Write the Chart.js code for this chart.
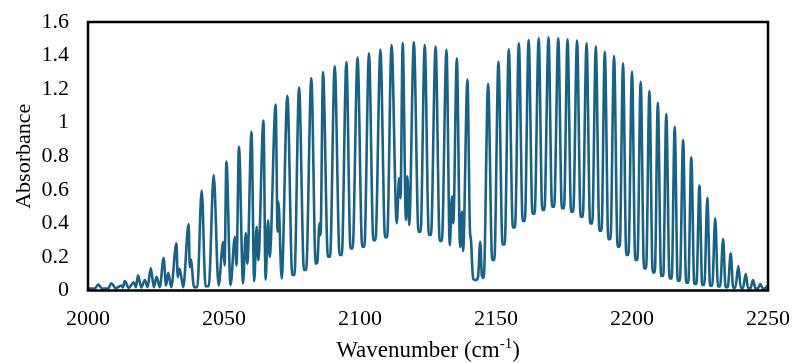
<!DOCTYPE html>
<html>
<head>
<meta charset="utf-8">
<script src="https://cdn.jsdelivr.net/npm/chart.js@4/dist/chart.umd.min.js"></script>
<style>
  html, body { margin: 0; padding: 0; background: #fff; }
  #wrap { width: 795px; height: 363px; }
</style>
</head>
<body>
<div id="wrap"><canvas id="c" width="795" height="363"></canvas></div>
<script>
// Values: wavenumber (cm-1) and absorbance of peaks, valleys, shoulders
// Low-wavenumber end of the P branch
const pLowWn = [2000.0, 2002.5, 2003.7, 2005.2, 2007.5, 2008.6, 2010.2, 2012.2, 2012.8, 2013.5,
  2015.0, 2016.8, 2017.6, 2018.4, 2019.6, 2020.9, 2021.9, 2023.1, 2024.2, 2025.2,
  2026.4, 2027.8, 2028.7, 2029.5, 2030.6, 2032.5, 2033.0, 2033.7, 2035.0, 2037.0,
  2037.4, 2037.8, 2039.0, 2040.2, 2041.8, 2043.2, 2044.4, 2046.2, 2048.0, 2049.7,
  2050.2, 2050.9, 2052.4, 2054.0, 2054.6, 2055.5, 2057.0, 2058.0, 2058.6, 2060.1,
  2061.1, 2062.0, 2062.6, 2064.5, 2065.3, 2066.2, 2066.8];
const pLowAbs = [0.012, 0.012, 0.035, 0.012, 0.013, 0.043, 0.013, 0.030, 0.018, 0.057,
  0.015, 0.049, 0.020, 0.090, 0.018, 0.063, 0.020, 0.134, 0.020, 0.082,
  0.020, 0.194, 0.030, 0.106, 0.020, 0.281, 0.080, 0.130, 0.020, 0.396,
  0.140, 0.185, 0.020, 0.020, 0.595, 0.025, 0.025, 0.688, 0.030, 0.288,
  0.150, 0.768, 0.033, 0.319, 0.150, 0.857, 0.043, 0.341, 0.160, 0.945,
  0.055, 0.380, 0.180, 1.012, 0.065, 0.418, 0.200];
// Upper P branch
const pHighWn = [2069.0, 2069.7, 2070.0, 2071.2, 2073.3, 2075.1, 2075.9, 2077.6, 2079.4, 2080.2,
  2082.1, 2083.7, 2084.3, 2085.1, 2085.5, 2086.4, 2088.2, 2089.0, 2090.7, 2092.5,
  2093.3, 2095.0, 2096.5, 2097.3, 2099.1, 2100.8, 2101.6, 2103.3, 2104.9, 2105.7,
  2107.5, 2109.2, 2110.0, 2111.6, 2113.5, 2114.4, 2114.9, 2115.7, 2116.9, 2117.4,
  2118.1, 2119.8, 2121.5, 2122.3, 2123.8, 2125.3, 2126.1, 2127.8, 2129.3, 2130.1,
  2131.8, 2133.0, 2133.8, 2134.3, 2135.6, 2136.8, 2137.5, 2137.9, 2139.5];
const pHighAbs = [1.108, 0.350, 0.529, 0.072, 1.160, 0.092, 0.092, 1.209, 0.122, 0.122,
  1.266, 0.160, 0.165, 0.400, 0.330, 1.302, 0.201, 0.201, 1.336, 0.212,
  0.212, 1.362, 0.251, 0.251, 1.388, 0.261, 0.261, 1.414, 0.300, 0.300,
  1.435, 0.318, 0.318, 1.463, 0.400, 0.670, 0.550, 1.475, 0.420, 0.680,
  0.390, 1.481, 0.350, 0.350, 1.463, 0.331, 0.331, 1.453, 0.296, 0.296,
  1.435, 0.270, 0.560, 0.400, 1.384, 0.260, 0.470, 0.235, 1.257];
// Band centre gap
const gapWn = [2140.4, 2140.8, 2141.6, 2142.6, 2143.4, 2144.2, 2144.8, 2145.5];
const gapAbs = [0.370, 0.300, 0.070, 0.062, 0.080, 0.290, 0.090, 0.075];
// R branch
const rWn = [2147.1, 2148.6, 2149.4, 2150.9, 2152.4, 2153.2, 2154.7, 2156.2, 2157.0,
  2158.4, 2159.8, 2160.6, 2162.0, 2163.4, 2164.2, 2165.7, 2167.0, 2167.8,
  2169.3, 2170.6, 2171.4, 2172.9, 2174.2, 2175.0, 2176.3, 2177.6, 2178.4,
  2179.8, 2181.1, 2181.9, 2183.3, 2184.6, 2185.4, 2186.7, 2188.0, 2188.8,
  2190.0, 2191.3, 2192.1, 2193.4, 2194.7, 2195.5, 2196.7, 2197.9, 2198.7,
  2200.0, 2201.2, 2202.0, 2203.2, 2204.4, 2205.2, 2206.4, 2207.6, 2208.4,
  2209.5, 2210.7, 2211.5, 2212.6, 2213.8, 2214.6, 2215.7, 2216.8, 2217.6,
  2218.8, 2219.9, 2220.7, 2221.8, 2222.9, 2223.7, 2224.8, 2225.8, 2226.6,
  2227.7, 2228.7, 2229.5, 2230.6, 2231.6, 2232.4, 2233.5, 2234.4, 2235.2,
  2236.3, 2237.2, 2238.0, 2239.1, 2240.0, 2240.8, 2241.8, 2242.7, 2243.5,
  2244.5, 2245.4, 2246.2, 2247.2, 2248.1, 2248.9, 2249.7, 2250.0];
const rAbs = [1.232, 0.182, 0.182, 1.364, 0.274, 0.274, 1.437, 0.375, 0.375,
  1.473, 0.414, 0.414, 1.493, 0.458, 0.458, 1.503, 0.480, 0.480,
  1.509, 0.500, 0.500, 1.503, 0.490, 0.490, 1.497, 0.470, 0.470,
  1.489, 0.440, 0.440, 1.473, 0.400, 0.400, 1.453, 0.356, 0.356,
  1.423, 0.305, 0.305, 1.397, 0.261, 0.261, 1.354, 0.212, 0.212,
  1.304, 0.182, 0.182, 1.244, 0.132, 0.132, 1.189, 0.108, 0.108,
  1.119, 0.086, 0.086, 1.052, 0.072, 0.072, 0.976, 0.058, 0.058,
  0.897, 0.046, 0.046, 0.794, 0.039, 0.039, 0.625, 0.033, 0.033,
  0.553, 0.028, 0.028, 0.430, 0.024, 0.024, 0.307, 0.020, 0.020,
  0.222, 0.017, 0.017, 0.146, 0.015, 0.015, 0.098, 0.013, 0.013,
  0.063, 0.012, 0.012, 0.039, 0.011, 0.011, 0.027, 0.015];

const xTicks = [2000, 2050, 2100, 2150, 2200, 2250];
const yTicks = [0, 0.2, 0.4, 0.6, 0.8, 1, 1.2, 1.4, 1.6];
const xTitle = 'Wavenumber (cm';
const xTitleSup = '-1';
const xTitleEnd = ')';
const yTitle = 'Absorbance';

const wavenumbers = [].concat(pLowWn, pHighWn, gapWn, rWn);
const absorbance = [].concat(pLowAbs, pHighAbs, gapAbs, rAbs);
const points = wavenumbers.map((w, i) => ({ x: w, y: absorbance[i] }));
const FONT = '"Liberation Serif", "Times New Roman", serif';

const framePlugin = {
  id: 'frame',
  afterDatasetsDraw(chart) {
    const { ctx, chartArea: a } = chart;
    ctx.save();
    ctx.strokeStyle = '#000';
    ctx.lineWidth = 2.5;
    ctx.strokeRect(a.left, a.top, a.right - a.left, a.bottom - a.top);
    ctx.restore();
  },
  afterDraw(chart) {
    const { ctx, chartArea: a } = chart;
    ctx.save();
    ctx.fillStyle = '#000';
    const mainFont = '23px ' + FONT;
    const supFont = '15px ' + FONT;
    ctx.font = mainFont;
    const w1 = ctx.measureText(xTitle).width;
    const w3 = ctx.measureText(xTitleEnd).width;
    ctx.font = supFont;
    const w2 = ctx.measureText(xTitleSup).width;
    const total = w1 + w2 + w3;
    const cx = (a.left + a.right) / 2;
    const x0 = cx - total / 2;
    const base = 357;
    ctx.textBaseline = 'alphabetic';
    ctx.textAlign = 'left';
    ctx.font = mainFont;
    ctx.fillText(xTitle, x0, base);
    ctx.font = supFont;
    ctx.fillText(xTitleSup, x0 + w1, base - 9);
    ctx.font = mainFont;
    ctx.fillText(xTitleEnd, x0 + w1 + w2, base);
    // y-axis title
    ctx.translate(30, (a.top + a.bottom) / 2);
    ctx.rotate(-Math.PI / 2);
    ctx.textAlign = 'center';
    ctx.font = '22px ' + FONT;
    ctx.fillText(yTitle, 0, 0);
    ctx.restore();
  }
};

function noOverflow(scale) {
  scale.paddingTop = 0;
  scale.paddingBottom = 0;
  scale.paddingLeft = 0;
  scale.paddingRight = 0;
}

new Chart(document.getElementById('c'), {
  type: 'line',
  data: {
    datasets: [{
      data: points,
      borderColor: '#1a6285',
      borderWidth: 2.6,
      pointRadius: 0,
      fill: false,
      cubicInterpolationMode: 'monotone'
    }]
  },
  options: {
    responsive: false,
    animation: false,
    devicePixelRatio: 1,
    layout: { padding: { left: 0, right: 27, top: 22, bottom: 0 } },
    plugins: { legend: { display: false }, tooltip: { enabled: false } },
    scales: {
      x: {
        type: 'linear',
        min: xTicks[0],
        max: xTicks[xTicks.length - 1],
        afterBuildTicks(scale) { scale.ticks = xTicks.map(v => ({ value: v })); },
        afterFit(scale) { scale.height = 72.5; noOverflow(scale); },
        grid: { display: false, drawTicks: false },
        border: { display: false },
        ticks: {
          color: '#000',
          font: { family: FONT, size: 22 },
          padding: 16,
          maxRotation: 0,
          callback: v => String(v)
        }
      },
      y: {
        min: yTicks[0],
        max: yTicks[yTicks.length - 1],
        afterBuildTicks(scale) { scale.ticks = yTicks.map(v => ({ value: v })); },
        afterFit(scale) { scale.width = 88; noOverflow(scale); },
        grid: { display: false, drawTicks: false },
        border: { display: false },
        ticks: {
          color: '#000',
          font: { family: FONT, size: 22 },
          padding: 19,
          callback: v => String(Math.round(v * 10) / 10)
        }
      }
    }
  },
  plugins: [framePlugin]
});
</script>
</body>
</html>
